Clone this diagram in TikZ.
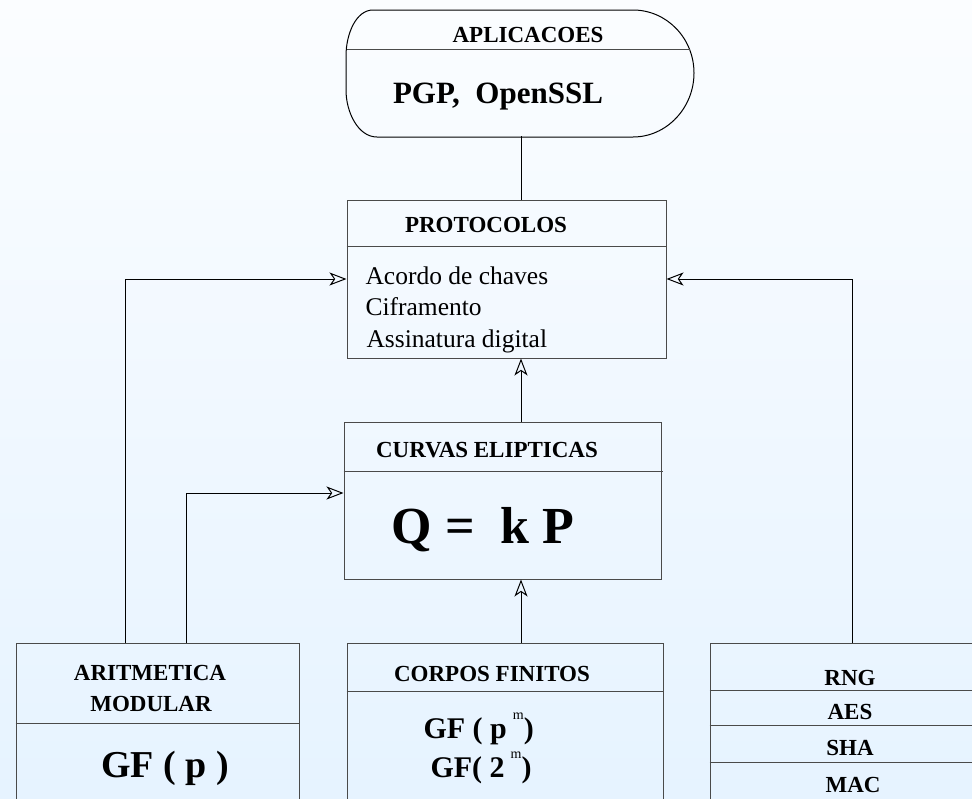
\documentclass[tikz,border=0pt]{standalone}
\usepackage{fontspec}
\setmainfont{Liberation Serif}
\usepackage{tikz}
\usetikzlibrary{positioning,arrows.meta,calc}
\definecolor{bgtop}{HTML}{FBFDFF}
\definecolor{bgbot}{HTML}{E6F3FF}
\definecolor{framecolor}{HTML}{4A4A4A}

\begin{document}
\begin{tikzpicture}[x=1pt, y=-1pt,
    box/.style={draw=framecolor, line width=1pt, inner sep=0pt},
    rule/.style={draw=framecolor, line width=1pt},
    link/.style={draw=black, line width=1pt, -{Stealth[open, length=17pt, width=13pt, inset=4.5pt]}},
    title/.style={anchor=base, font=\fontsize{23}{25}\selectfont\bfseries},
    item/.style={anchor=base west, font=\fontsize{25.5}{27}\selectfont},
    formula/.style={anchor=base west, font=\fontsize{30}{32}\selectfont\bfseries},
  ]
  \useasboundingbox (0,0) rectangle (972,798);
  \shade[top color=bgtop, bottom color=bgbot] (0,0) rectangle (972,798);
  \clip (0,0) rectangle (972,798);

  % aplicacoes
  \node[inner sep=0pt, minimum width=348, minimum height=126] (apps) at (520,73) {};
  \draw[line width=1pt] (373,10) -- (633,10)
    .. controls (666.7,10) and (694,38.2) .. (694,73)
    .. controls (694,107.8) and (666.7,137) .. (633,137)
    -- (377,137)
    .. controls (358,137) and (346,112) .. (346,90)
    -- (346,56)
    .. controls (346,34) and (356,10) .. (373,10);
  \draw[rule] (347,49) -- (690,49);
  \node[title] (appstitle) at (528,42) {APLICACOES};
  \node[anchor=base, font=\fontsize{31}{33}\selectfont\bfseries] (appstext) at (498,103) {PGP,\ \ OpenSSL};

  % protocolos
  \node[box, minimum width=319, minimum height=158] (proto) at (506.5,279) {};
  \draw[rule] (proto.north west) ++(0,47) -- ++(319,0);
  \node[title] (prototitle) at (486,232) {PROTOCOLOS};
  \node[item] (acordo) at (362,284) {Acordo de chaves};
  \node[item] (cifra) at (362,315) {Ciframento};
  \node[item] (assin) at (363,347) {Assinatura digital};

  % curvas elipticas
  \node[box, minimum width=317, minimum height=157] (curves) at (502.5,500.5) {};
  \draw[rule] (curves.north west) ++(0,50) -- ++(319,0);
  \node[title] (curvestitle) at (487,457) {CURVAS ELIPTICAS};
  \node[anchor=base, font=\fontsize{52}{54}\selectfont\bfseries] (qkp) at (483,543) {Q =\ \ k P};

  % aritmetica modular
  \node[box, minimum width=283, minimum height=177] (arit) at (157.5,731.5) {};
  \draw[rule] (arit.north west) ++(0,81) -- ++(283,0);
  \node[title] (arittitle) at (150,680) {ARITMETICA};
  \node[title] (aritsub) at (151,711) {MODULAR};
  \node[anchor=base, font=\fontsize{38}{40}\selectfont\bfseries] (gfp) at (165,777) {GF ( p )};

  % corpos finitos
  \node[box, minimum width=316, minimum height=177] (corpos) at (505,731.5) {};
  \draw[rule] (corpos.north west) ++(0,49) -- ++(316,0);
  \node[title] (corpostitle) at (492,681) {CORPOS FINITOS};
  \node[formula] (gfpm) at (420,738) {GF ( p\hspace{6pt}\raisebox{19pt}{\fontsize{14}{14}\selectfont\mdseries m})};
  \node[formula] (gf2m) at (427,777) {GF( 2\hspace{6pt}\raisebox{19pt}{\fontsize{14}{14}\selectfont\mdseries m})};

  % primitivas
  \node[box, minimum width=290, minimum height=177] (prims) at (855,731.5) {};
  \draw[rule] (prims.north west) ++(0,48) -- ++(290,0);
  \draw[rule] (prims.north west) ++(0,83) -- ++(290,0);
  \draw[rule] (prims.north west) ++(0,120) -- ++(290,0);
  \node[title] (rng) at (850,685) {RNG};
  \node[title] (aes) at (850,719) {AES};
  \node[title] (sha) at (850,755) {SHA};
  \node[title] (mac) at (853,792) {MAC};

  % ligacoes
  \coordinate (spine) at (521,0);
  \draw[line width=1pt] (apps.south -| spine) -- (proto.north -| spine);
  \draw[link] (curves.north -| spine) -- (proto.south -| spine);
  \draw[link] (corpos.north -| spine) -- (curves.south -| spine);
  \draw[link] (arit.north -| 125,0) |- (proto.west);
  \draw[link] (prims.north -| 852,0) |- (proto.east);
  \draw[link] (arit.north -| 186,0) |- (curves.west |- 0,493);
\end{tikzpicture}
\end{document}
